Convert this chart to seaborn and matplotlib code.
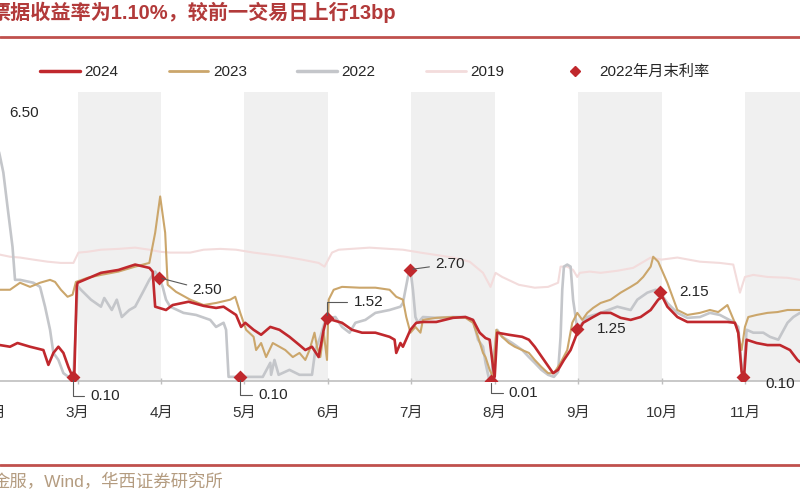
import matplotlib
matplotlib.use("Agg")
import matplotlib.pyplot as plt
import seaborn as sns
from matplotlib.lines import Line2D

# ---------------------------------------------------------------
# x 为月份位置：3.0 = 3月初，3.5 = 3月中旬；y 为票据收益率（%）

x_2024 = [2.07, 2.19, 2.28, 2.43, 2.59, 2.65, 2.71, 2.77, 2.83, 2.89, 2.94, 2.96, 2.99,
          3.00, 3.28, 3.49, 3.69, 3.86, 3.90, 3.93, 4.06,
          4.14, 4.33, 4.51, 4.66, 4.75, 4.90, 4.96, 5.01,
          5.11, 5.20, 5.31, 5.42, 5.54, 5.66, 5.73, 5.81, 5.89, 5.95, 5.99,
          6.05, 6.17, 6.29, 6.41, 6.57, 6.74, 6.80, 6.82, 6.87, 6.90, 6.99,
          7.06, 7.14, 7.30, 7.50, 7.65, 7.74, 7.82, 7.89, 7.94, 7.98, 8.00,
          8.03, 8.17, 8.33, 8.41, 8.48, 8.59, 8.70, 8.76, 8.83, 8.91, 8.99,
          9.06, 9.18, 9.27, 9.39, 9.51, 9.63, 9.75, 9.87, 9.96, 10.01,
          10.07, 10.19, 10.31, 10.46, 10.79, 10.88, 10.92, 10.96, 10.99,
          11.02, 11.14, 11.27, 11.42, 11.54, 11.63, 11.66]
v_2024 = [0.87, 0.83, 0.92, 0.83, 0.75, 0.39, 0.68, 0.83, 0.68, 0.34, 0.10, 0.07, 2.28,
          2.38, 2.62, 2.69, 2.82, 2.74, 2.65, 1.80, 1.72,
          1.84, 1.92, 1.82, 1.77, 1.80, 1.60, 1.31, 1.41,
          1.24, 1.12, 1.31, 1.24, 1.07, 0.87, 0.75, 0.83, 0.58, 1.24, 1.55,
          1.48, 1.41, 1.24, 1.17, 1.17, 1.07, 1.00, 0.68, 0.92, 0.83, 1.24,
          1.41, 1.43, 1.43, 1.53, 1.55, 1.48, 1.17, 1.04, 1.00, 0.34, 0.10,
          1.17, 1.12, 1.07, 1.00, 0.83, 0.51, 0.19, 0.27, 0.51, 0.75, 1.17,
          1.41, 1.55, 1.65, 1.65, 1.53, 1.48, 1.55, 1.72, 1.97, 2.04,
          1.80, 1.55, 1.43, 1.43, 1.43, 1.41, 1.17, 0.22, 0.12,
          1.00, 0.92, 0.87, 0.87, 0.75, 0.51, 0.46]

x_2023 = [2.07, 2.19, 2.31, 2.43, 2.55, 2.67, 2.73, 2.80, 2.88, 2.94, 2.98,
          3.12, 3.28, 3.49, 3.69, 3.86, 3.93, 3.99,
          4.05, 4.08, 4.18, 4.35, 4.51, 4.66, 4.83, 4.89, 4.95,
          5.02, 5.11, 5.14, 5.20, 5.26, 5.34, 5.42, 5.49, 5.58, 5.66, 5.73, 5.78, 5.84, 5.87, 5.91, 5.95, 5.99,
          6.01, 6.07, 6.17, 6.38, 6.57, 6.74, 6.82, 6.90, 6.94, 6.99,
          7.05, 7.11, 7.14, 7.30, 7.50, 7.65, 7.74, 7.80, 7.86, 7.89, 7.94, 7.98,
          8.02, 8.09, 8.17, 8.24, 8.33, 8.41, 8.48, 8.56, 8.64, 8.71, 8.79, 8.87, 8.93, 8.99,
          9.05, 9.11, 9.18, 9.27, 9.39, 9.51, 9.63, 9.71, 9.78, 9.87, 9.90, 9.96,
          10.07, 10.19, 10.31, 10.46, 10.58, 10.68, 10.79, 10.85, 10.90, 10.96, 11.00,
          11.04, 11.14, 11.27, 11.39, 11.51, 11.66]
v_2023 = [2.21, 2.21, 2.38, 2.28, 2.38, 2.45, 2.40, 2.21, 2.04, 2.09, 2.40,
          2.50, 2.57, 2.65, 2.77, 2.86, 3.59, 4.47,
          3.59, 2.33, 2.16, 1.97, 1.84, 1.89, 1.97, 2.04, 1.65,
          1.24, 1.07, 0.75, 0.92, 0.58, 0.92, 0.83, 0.75, 0.58, 0.68, 0.51, 0.75, 1.17, 0.83, 0.58, 1.17, 0.51,
          1.97, 2.21, 2.28, 2.26, 2.26, 2.21, 2.04, 1.97, 1.55, 1.17,
          1.31, 1.17, 1.48, 1.53, 1.55, 1.53, 1.41, 1.07, 0.68, 0.58, 0.27, 0.10,
          1.24, 1.07, 0.92, 0.83, 0.75, 0.68, 0.51, 0.34, 0.19, 0.19, 0.44, 0.75, 1.41, 1.65,
          1.48, 1.65, 1.77, 1.89, 1.97, 2.14, 2.28, 2.38, 2.52, 2.77, 3.01, 2.89,
          2.38, 1.72, 1.60, 1.65, 1.72, 1.67, 1.84, 1.55, 1.31, 0.75, 1.31,
          1.55, 1.60, 1.65, 1.67, 1.72, 1.72]

x_2022 = [1.95, 2.07, 2.11, 2.16, 2.22, 2.25, 2.31, 2.47, 2.55, 2.61, 2.67, 2.71, 2.77, 2.83, 2.89, 2.95,
          3.00, 3.04, 3.16, 3.28, 3.32, 3.41, 3.47, 3.53, 3.62, 3.69, 3.78, 3.86, 3.93, 3.98,
          4.02, 4.06, 4.11, 4.27, 4.42, 4.59, 4.66, 4.75, 4.78, 4.81, 4.90, 4.95,
          5.00, 5.22, 5.31, 5.32, 5.36, 5.41, 5.54, 5.66, 5.81, 5.85, 5.91, 5.96, 5.99,
          6.09, 6.17, 6.26, 6.33, 6.45, 6.57, 6.74, 6.87, 6.90, 6.96, 6.99,
          7.02, 7.05, 7.08, 7.14, 7.30, 7.50, 7.65, 7.74, 7.80, 7.86, 7.89, 7.93, 7.95,
          8.03, 8.09, 8.21, 8.33, 8.41, 8.48, 8.56, 8.64, 8.71, 8.76, 8.79, 8.81, 8.83, 8.87, 8.91, 8.94, 8.97, 8.99,
          9.11, 9.27, 9.47, 9.63, 9.71, 9.83, 9.93, 9.98,
          10.07, 10.19, 10.31, 10.46, 10.58, 10.70, 10.86, 10.92, 10.96, 10.98,
          11.02, 11.10, 11.22, 11.30, 11.40, 11.51, 11.58, 11.66]
v_2022 = [6.50, 5.44, 5.05, 4.22, 3.25, 2.45, 2.45, 2.38, 2.28, 1.80, 1.24, 0.68, 0.51, 0.19, 0.10, 0.10,
          2.30, 2.21, 1.97, 1.80, 2.01, 1.72, 1.97, 1.55, 1.72, 1.80, 2.14, 2.45, 2.65, 2.50,
          2.28, 1.97, 1.80, 1.65, 1.60, 1.48, 1.31, 1.41, 1.24, 0.10, 0.10, 0.10,
          0.10, 0.10, 0.44, 0.15, 0.51, 0.15, 0.27, 0.15, 0.15, 0.75, 1.07, 1.41, 1.52,
          1.55, 1.31, 1.17, 1.41, 1.48, 1.65, 1.72, 1.80, 1.89, 2.52, 2.70,
          2.21, 1.55, 1.41, 1.55, 1.53, 1.55, 1.55, 1.48, 1.00, 0.83, 0.44, 0.07, 0.01,
          1.24, 1.07, 0.92, 0.75, 0.58, 0.44, 0.27, 0.15, 0.10, 0.22, 1.07, 2.21, 2.77, 2.82, 2.77, 1.97, 1.55, 1.25,
          1.55, 1.65, 1.80, 1.72, 1.97, 2.14, 2.21, 2.15,
          1.89, 1.65, 1.53, 1.55, 1.65, 1.60, 1.43, 1.31, 0.34, 0.10,
          1.24, 1.17, 1.17, 1.07, 1.00, 1.41, 1.55, 1.65]

x_2019 = [2.07, 2.19, 2.31, 2.47, 2.64, 2.80, 2.95,
          3.01, 3.12, 3.28, 3.49, 3.69, 3.86, 3.99,
          4.11, 4.35, 4.51, 4.71, 4.90,
          5.11, 5.31, 5.49, 5.69, 5.89, 5.96,
          6.05, 6.13, 6.50, 6.90,
          7.11, 7.50, 7.70, 7.86, 7.95,
          8.01, 8.09, 8.29, 8.48, 8.64, 8.76, 8.79, 8.87, 8.94, 8.99,
          9.02, 9.14, 9.27, 9.47, 9.66, 9.87, 10.00,
          10.19, 10.46, 10.70, 10.86, 10.94, 11.00,
          11.10, 11.27, 11.51, 11.66]
v_2019 = [3.06, 3.01, 2.99, 2.94, 2.89, 2.86, 2.86,
          3.11, 3.13, 3.18, 3.20, 3.23, 3.18, 3.13,
          3.11, 3.11, 3.18, 3.20, 3.18,
          3.11, 3.06, 3.01, 2.94, 2.86, 2.77,
          3.11, 3.18, 3.23, 3.18,
          3.11, 2.99, 2.89, 2.62, 2.28,
          2.62, 2.52, 2.33, 2.26, 2.28, 2.38, 2.77, 2.77, 2.69, 2.52,
          2.62, 2.65, 2.62, 2.67, 2.74, 2.99, 2.94,
          2.99, 2.89, 2.86, 2.82, 2.14, 2.52,
          2.57, 2.52, 2.50, 2.45]

# 2022年月末利率（1月末 ~ 10月末）
mark_x = [1.95, 2.95, 3.98, 4.95, 5.99, 6.99, 7.95, 8.99, 9.98, 10.98]
mark_v = [6.50, 0.10, 2.50, 0.10, 1.52, 2.70, 0.01, 1.25, 2.15, 0.10]

months = [3, 4, 5, 6, 7, 8, 9, 10, 11]
month_labels = ["%d月" % m for m in months]
shade_months = [3, 5, 7, 9, 11]

TITLE = "票据收益率为1.10%，较前一交易日上行13bp"
SOURCE = "金服，Wind，华西证券研究所"

# ---------------------------------------------------------------
C24 = "#c0282d"
C23 = "#cba66b"
C22 = "#c4c6ca"
C19 = "#f3dcdc"
CRED = "#c0504d"

sns.set_theme(style="white")
plt.rcParams["font.family"] = ["Liberation Sans", "Noto Sans CJK SC"]
plt.rcParams["axes.unicode_minus"] = False

fig = plt.figure(figsize=(8, 5), dpi=100)
ax = fig.add_axes([0, 0.238, 1, 0.578])

for m in shade_months:
    ax.axvspan(m, m + 1, color="#f0f0f0", lw=0, zorder=0)

sns.lineplot(x=x_2019, y=v_2019, ax=ax, color=C19, lw=1.5, estimator=None, zorder=2)
sns.lineplot(x=x_2022, y=v_2022, ax=ax, color=C22, lw=1.9, estimator=None, zorder=3)
sns.lineplot(x=x_2023, y=v_2023, ax=ax, color=C23, lw=1.5, estimator=None, zorder=4)
sns.lineplot(x=x_2024, y=v_2024, ax=ax, color=C24, lw=1.9, estimator=None, zorder=5)
sns.scatterplot(x=mark_x, y=mark_v, ax=ax, color=C24, marker="D", s=50,
                edgecolor=C24, linewidth=0, zorder=6)

# 月末利率标注 (dx, dy 为偏移点数, 引线样式)
offsets = [(14, 0, None), (12, -14, "angle"), (24, -9, "line"), (13, -13, "angle"),
           (19, 12, "angle"), (18, 4, "line"), (13, -9, "angle"), (14, 0, None),
           (14, 0, None), (16, -5, None)]
for xv, yv, (dx, dy, style) in zip(mark_x, mark_v, offsets):
    props = None
    if style == "angle":
        props = dict(arrowstyle="-", color="#595959", lw=0.8,
                     connectionstyle="angle,angleA=0,angleB=90,rad=0")
    elif style == "line":
        props = dict(arrowstyle="-", color="#595959", lw=0.8)
    ax.annotate("%.2f" % yv, xy=(xv, yv), xytext=(dx, dy), textcoords="offset points",
                ha="left", va="center", fontsize=11, color="#262626",
                arrowprops=props, annotation_clip=False, zorder=7)

ax.set_xlim(2.07, 11.66)
ax.set_ylim(0, 7)
ax.set_xticks(months)
ax.set_xticklabels(month_labels)
ax.set_yticks([])
ax.set_xlabel("")
ax.set_ylabel("")
for side in ["left", "right", "top"]:
    ax.spines[side].set_visible(False)
ax.spines["bottom"].set_color("#bfbfbf")
ax.spines["bottom"].set_linewidth(1.2)
ax.tick_params(axis="x", direction="inout", length=4, width=1, color="#bfbfbf",
               pad=16, labelsize=11, labelcolor="#333333", bottom=True)
ax.annotate("2月", xy=(2, 0), xycoords=("data", "axes fraction"), xytext=(0, -18),
            textcoords="offset points", ha="center", va="top", fontsize=11,
            color="#333333", annotation_clip=False)

# 图例
handles = [Line2D([], [], color=C24, lw=2.5),
           Line2D([], [], color=C23, lw=2),
           Line2D([], [], color=C22, lw=2.5),
           Line2D([], [], color=C19, lw=2),
           Line2D([], [], color=C24, marker="D", ms=5, lw=0)]
labels = ["2024", "2023", "2022", "2019", "2022年月末利率"]
fig.legend(handles, labels, loc="center left", bbox_to_anchor=(0.05, 0.856), ncol=5,
           frameon=False, fontsize=11, handlelength=2.6, handletextpad=0.3,
           columnspacing=3.3, borderpad=0, borderaxespad=0)

# 标题、来源与红色分隔线
fig.text(-0.0125, 0.976, TITLE, ha="left", va="center", fontsize=14.5,
         fontweight="bold", color="#b23a3a")
fig.add_artist(Line2D([0, 1], [0.926, 0.926], color=CRED, lw=2))
fig.add_artist(Line2D([0, 1], [0.07, 0.07], color=CRED, lw=2))
fig.text(-0.01, 0.036, SOURCE, ha="left", va="center", fontsize=12.5, color="#b49c80")

fig.savefig("out.png", dpi=100)
